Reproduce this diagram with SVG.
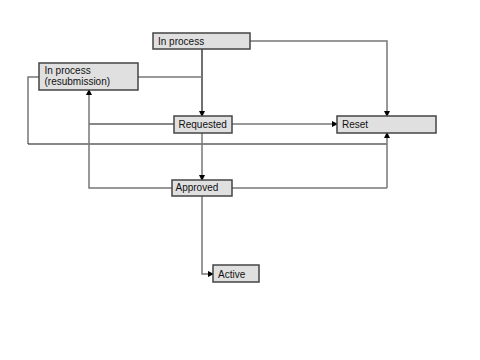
<svg xmlns="http://www.w3.org/2000/svg" width="480" height="360" viewBox="0 0 480 360">
<style>
.box{fill:#e0e0e0;stroke:#444;stroke-width:1.5}
.t{font-family:"Liberation Sans",Arial,sans-serif;font-size:10px;fill:#111}
.k{fill:none;stroke:#111;stroke-width:1.2}
.g{fill:none;stroke:#777;stroke-width:1.5}
</style>
<defs>
<marker id="a" markerWidth="6" markerHeight="6" refX="5" refY="3" orient="auto" markerUnits="userSpaceOnUse">
<path d="M0,0 L6,3 L0,6 Z" fill="#000"/>
</marker>
</defs>
<rect width="480" height="360" fill="#fff"/>
<g id="connectors">
<path class="k" d="M202,49 V116" marker-end="url(#a)"/>
<path class="g" d="M250,41 H387 V116" marker-end="url(#a)"/>
<path class="g" d="M138,77 H202"/>
<path class="g" d="M39,77 H28 V144"/>
<path class="k" d="M28,144 H387"/>
<path class="g" d="M387,188 V133" marker-end="url(#a)"/>
<path class="k" d="M174,124 H89"/>
<path class="g" d="M89,124 V90" marker-end="url(#a)"/>
<path class="g" d="M172,188 H89 V124"/>
<path class="g" d="M232,124 H337" marker-end="url(#a)"/>
<path class="g" d="M202,133 V180" marker-end="url(#a)"/>
<path class="g" d="M232,188 H387"/>
<path class="g" d="M202,196 V274 H213" marker-end="url(#a)"/>
</g>
<g id="inprocess"><rect class="box" x="153" y="33" width="97" height="16"/><text class="t" x="158" y="44.5">In process</text></g>
<g id="resubmission"><rect class="box" x="39" y="63" width="99" height="27"/><text class="t" x="44.5" y="74">In process</text><text class="t" x="44.5" y="85">(resubmission)</text></g>
<g id="requested"><rect class="box" x="174" y="116" width="58" height="17"/><text class="t" x="178.5" y="127.5">Requested</text></g>
<g id="reset"><rect class="box" x="337" y="116" width="99" height="17"/><text class="t" x="342" y="127.5">Reset</text></g>
<g id="approved"><rect class="box" x="172" y="180" width="60" height="16"/><text class="t" x="175.5" y="191">Approved</text></g>
<g id="active"><rect class="box" x="213" y="265" width="46" height="17"/><text class="t" x="218" y="277.5">Active</text></g>
</svg>
